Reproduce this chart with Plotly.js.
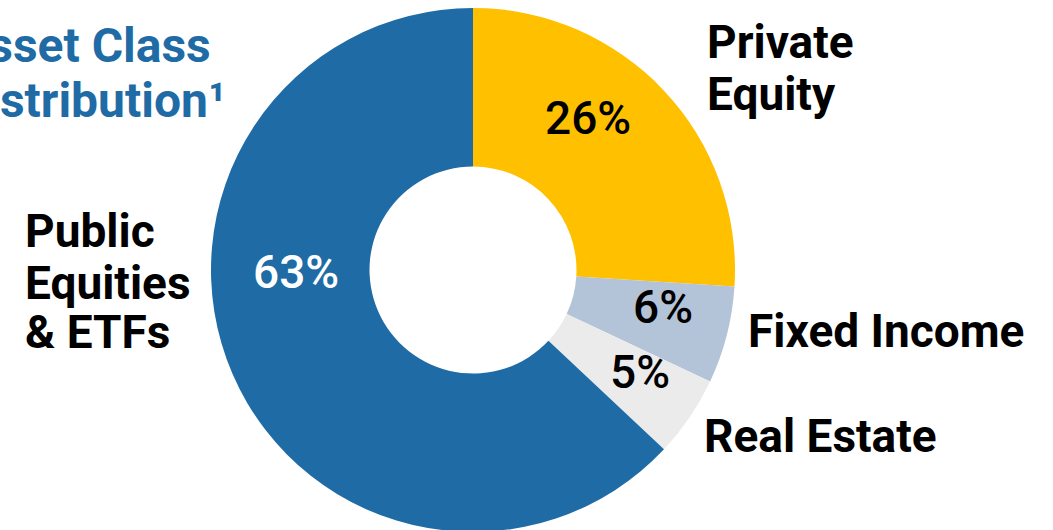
<!DOCTYPE html>
<html>
<head>
<meta charset="utf-8">
<script src="https://cdn.plot.ly/plotly-3.0.1.min.js"></script>
<style>
  html, body { margin: 0; padding: 0; overflow: hidden; background: #ffffff; }
  #chart { width: 1053px; height: 540px; }
</style>
</head>
<body>
<div id="chart"></div>
<script>
// ---- data ----
const categories = ['Private Equity', 'Fixed Income', 'Real Estate', 'Public Equities & ETFs'];
const values = [26, 6, 5, 63];
const sliceColors = ['#FFC000', '#B4C4D8', '#EBEBEB', '#1F6BA5'];
const percentTextColors = ['#000000', '#000000', '#000000', '#FFFFFF'];
const labelLines = [['Private', 'Equity'], ['Fixed Income'], ['Real Estate'], ['Public', 'Equities', '& ETFs']];
const titleLines = ['Asset Class', 'Distribution\u00B9'];

// ---- layout helpers (pixel -> paper) ----
const W = 1053, H = 540;
const px = x => x / W;
const py = y => 1 - y / H;
const FONT = 'Roboto, "Liberation Sans", sans-serif';

// label placement (left x, middle y of each line)
const labelPos = [
  [[705, 42], [705, 94]],
  [[746, 331]],
  [[702, 436]],
  [[23, 231], [23, 283], [23, 332]]
];
// percent placement (center x, middle y)
const pctPos = [[588, 118], [663, 307], [640, 372], [296, 272]];
// title placement (right x, middle y)
const titlePos = [[213, 45], [228, 101]];

const total = values.reduce((a, b) => a + b, 0);
const annotations = [];

titleLines.forEach((t, i) => {
  annotations.push({
    text: t, xref: 'paper', yref: 'paper',
    x: px(titlePos[i][0]), y: py(titlePos[i][1]),
    xanchor: 'right', yanchor: 'middle', showarrow: false,
    font: { family: FONT, size: 48, color: '#1F6BA5', weight: 'bold' }
  });
});

labelLines.forEach((lines, i) => {
  lines.forEach((t, j) => {
    annotations.push({
      text: t, xref: 'paper', yref: 'paper',
      x: px(labelPos[i][j][0]), y: py(labelPos[i][j][1]),
      xanchor: 'left', yanchor: 'middle', showarrow: false,
      font: { family: FONT, size: 46, color: '#000000', weight: 'bold' }
    });
  });
});

values.forEach((v, i) => {
  annotations.push({
    text: Math.round(v / total * 100) + '%', xref: 'paper', yref: 'paper',
    x: px(pctPos[i][0]), y: py(pctPos[i][1]),
    xanchor: 'center', yanchor: 'middle', showarrow: false,
    font: { family: FONT, size: 46, color: percentTextColors[i], weight: 500 }
  });
});

const trace = {
  type: 'pie',
  labels: categories,
  values: values,
  hole: 0.395,
  sort: false,
  direction: 'clockwise',
  rotation: 0,
  textinfo: 'none',
  hoverinfo: 'label+percent',
  marker: { colors: sliceColors, line: { color: '#ffffff', width: 0 } },
  domain: { x: [px(211), px(735)], y: [py(532), py(8)] },
  showlegend: false
};

const layout = {
  width: W, height: H,
  margin: { l: 0, r: 0, t: 0, b: 0, pad: 0 },
  paper_bgcolor: '#ffffff',
  plot_bgcolor: '#ffffff',
  showlegend: false,
  annotations: annotations
};

Plotly.newPlot('chart', [trace], layout, { displayModeBar: false, staticPlot: true });
</script>
</body>
</html>
